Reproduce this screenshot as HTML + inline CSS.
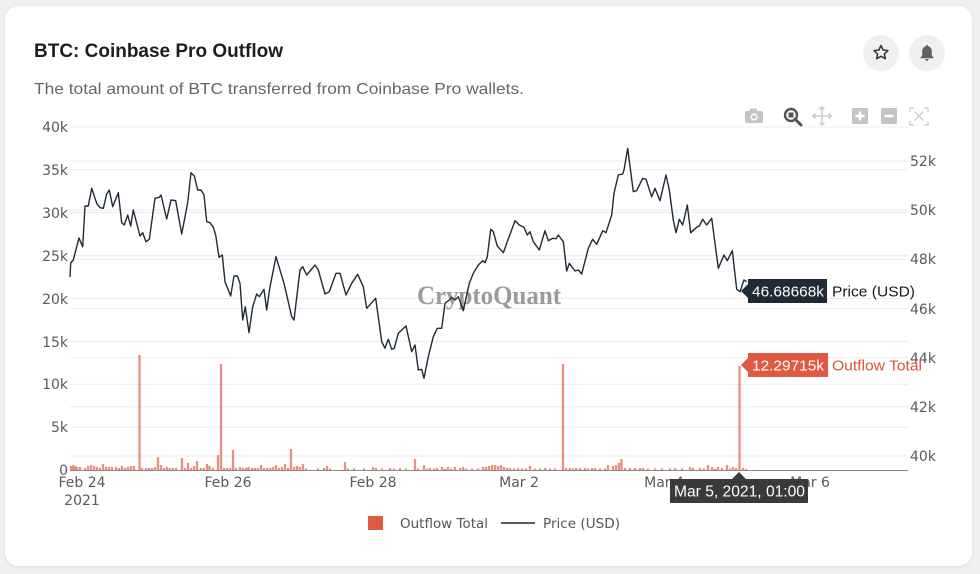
<!DOCTYPE html>
<html><head><meta charset="utf-8"><style>
html,body{margin:0;padding:0;background:#f1f0ef;width:980px;height:574px;overflow:hidden}
svg{display:block}
</style></head><body>
<svg width="980" height="574" viewBox="0 0 980 574" xmlns="http://www.w3.org/2000/svg">
<defs><filter id="sh" x="-5%" y="-5%" width="110%" height="110%"><feDropShadow dx="0" dy="1" stdDeviation="2" flood-color="#000" flood-opacity="0.08"/></filter></defs>
<rect x="0" y="0" width="980" height="574" fill="#f1f0ef"/>
<rect x="5" y="6" width="967" height="560" rx="14" fill="#ffffff" filter="url(#sh)"/>

<text x="34" y="57" font-family="Liberation Sans, Arial, sans-serif" font-weight="bold" font-size="19" fill="#1e1e1e" textLength="249" lengthAdjust="spacingAndGlyphs">BTC: Coinbase Pro Outflow</text>
<text x="34" y="94" font-family="Liberation Sans, Arial, sans-serif" font-size="16" fill="#666" textLength="490" lengthAdjust="spacingAndGlyphs">The total amount of BTC transferred from Coinbase Pro wallets.</text>

<circle cx="881" cy="53" r="18" fill="#f0f0f0"/>
<path d="M881 45.5 L883.1 50 L888 50.6 L884.4 53.9 L885.3 58.7 L881 56.3 L876.7 58.7 L877.6 53.9 L874 50.6 L878.9 50 Z" fill="none" stroke="#333" stroke-width="1.5" stroke-linejoin="round"/>
<circle cx="927" cy="53" r="18" fill="#f0f0f0"/>
<path d="M927 45 c-0.8 0 -1.2 0.6 -1.2 1.2 c-2.4 0.7 -3.6 2.8 -3.6 5.2 v4.2 l-1.6 1.8 v0.8 h12.8 v-0.8 l-1.6 -1.8 v-4.2 c0 -2.4 -1.2 -4.5 -3.6 -5.2 c0 -0.6 -0.4 -1.2 -1.2 -1.2 z M925.3 59 h3.4 c0 1 -0.8 1.7 -1.7 1.7 c-0.9 0 -1.7 -0.7 -1.7 -1.7 z" fill="#5f5f5f"/>

<!-- modebar -->
<g>
<rect x="745" y="111" width="18" height="12" rx="2" fill="#c4c4c4"/>
<rect x="750" y="108.5" width="7" height="3" rx="1" fill="#c4c4c4"/>
<circle cx="754" cy="117" r="3.6" fill="#fff"/><circle cx="754" cy="117" r="2" fill="#c4c4c4"/>
<circle cx="791" cy="115" r="6" fill="none" stroke="#555" stroke-width="2.4"/>
<rect x="788.5" y="112.5" width="5" height="5" fill="#555"/>
<line x1="795" y1="119" x2="801" y2="125" stroke="#555" stroke-width="3" stroke-linecap="round"/>
<path d="M822 107 v18 M813 116 h18 M819.5 109.5 l2.5-2.5 2.5 2.5 M819.5 122.5 l2.5 2.5 2.5-2.5 M815.5 113.5 l-2.5 2.5 2.5 2.5 M828.5 113.5 l2.5 2.5 -2.5 2.5" stroke="#cfcfcf" stroke-width="1.6" fill="none"/>
<rect x="852" y="108" width="16" height="16" rx="1.5" fill="#c4c4c4"/>
<path d="M860 111.5 v9 M855.5 116 h9" stroke="#fff" stroke-width="2.4"/>
<rect x="881" y="108" width="16" height="16" rx="1.5" fill="#c4c4c4"/>
<path d="M884.5 116 h9" stroke="#fff" stroke-width="2.4"/>
<path d="M910 112 v-4 h4 M924 108 h4 v4 M928 121 v4 h-4 M914 125 h-4 v-4 M914.5 111.5 l9 9 M923.5 111.5 l-9 9" stroke="#d0d0d0" stroke-width="1.4" fill="none"/>
</g>

<!-- grid -->
<g stroke="#ececec" stroke-width="1">
<line x1="70" y1="127" x2="908" y2="127"/>
<line x1="70" y1="169.9" x2="908" y2="169.9"/>
<line x1="70" y1="212.75" x2="908" y2="212.75"/>
<line x1="70" y1="255.6" x2="908" y2="255.6"/>
<line x1="70" y1="298.5" x2="908" y2="298.5"/>
<line x1="70" y1="341.4" x2="908" y2="341.4"/>
<line x1="70" y1="384.25" x2="908" y2="384.25"/>
<line x1="70" y1="427.1" x2="908" y2="427.1"/>
<line x1="70" y1="161" x2="908" y2="161"/>
<line x1="70" y1="210.2" x2="908" y2="210.2"/>
<line x1="70" y1="259.3" x2="908" y2="259.3"/>
<line x1="70" y1="308.5" x2="908" y2="308.5"/>
<line x1="70" y1="357.7" x2="908" y2="357.7"/>
<line x1="70" y1="406.8" x2="908" y2="406.8"/>
<line x1="70" y1="456" x2="908" y2="456"/>
</g>

<!-- left axis labels -->
<g font-family="DejaVu Sans, Liberation Sans, sans-serif" font-size="14" fill="#5a5a5a" text-anchor="end">
<text x="68" y="132">40k</text>
<text x="68" y="175">35k</text>
<text x="68" y="218">30k</text>
<text x="68" y="261">25k</text>
<text x="68" y="304">20k</text>
<text x="68" y="347">15k</text>
<text x="68" y="389">10k</text>
<text x="68" y="432">5k</text>
<text x="68" y="475">0</text>
</g>
<!-- right axis labels -->
<g font-family="DejaVu Sans, Liberation Sans, sans-serif" font-size="14" fill="#5a5a5a">
<text x="910" y="166">52k</text>
<text x="910" y="215">50k</text>
<text x="910" y="264">48k</text>
<text x="910" y="314">46k</text>
<text x="910" y="363">44k</text>
<text x="910" y="412">42k</text>
<text x="910" y="461">40k</text>
</g>

<!-- watermark -->
<text x="417" y="304" font-family="Liberation Serif, serif" font-weight="bold" font-size="26" fill="#8a8a8a" fill-opacity="0.85" textLength="144" lengthAdjust="spacingAndGlyphs">CryptoQuant</text>

<!-- bars -->
<path stroke="#e8907e" stroke-width="2.3" fill="none" d="
M71 470V466 M73 470V465 M75 470V466 M77 470V467 M80 470V467 M85 470V468 M88 470V466 M91 470V465 M94 470V466 M97 470V467 M100 470V468 M103 470V464 M106 470V467 M109 470V467 M112 470V467 M116 470V467 M119 470V468 M122 470V466 M125 470V468 M128 470V467 M131 470V466 M134 470V466 M139.5 470V355 M142 470V468 M146 470V468 M149 470V468 M152 470V468 M155 470V467 M158 470V457 M161 470V465 M164 470V468 M167 470V467 M170 470V468 M173 470V468 M176 470V468 M182 470V458 M185 470V468 M188 470V463 M191 470V468 M194 470V466 M197 470V461 M201 470V468 M204 470V468 M207 470V464 M209.5 470V466 M213 470V468 M218 470V455 M221 470V364 M224 470V468 M227 470V468 M230 470V468 M233 470V450 M236 470V468 M240 470V467 M243 470V468 M246 470V468 M248.5 470V467 M252 470V468 M255 470V468 M258 470V468 M261 470V465 M264 470V468 M267 470V468 M270 470V468 M273 470V467 M276 470V465 M279 470V468 M282 470V467 M285 470V464 M288 470V468 M291 470V449 M294 470V467 M297 470V466 M300 470V467 M303 470V464 M306 470V468.5 M318 470V468.5 M324 470V468 M327 470V466 M330 470V468.5 M345 470V462 M348 470V468.5 M354 470V468.5 M364 470V468.5 M373 470V467 M376 470V468 M382 470V468.5 M390 470V468 M394 470V468.5 M400 470V468 M406 470V468.5 M415 470V459 M418 470V468.5 M424 470V465 M427 470V468.5 M430 470V468 M434 470V468.5 M437 470V468 M442 470V467 M445 470V468.5 M448 470V467 M451 470V468.5 M455 470V467 M460 470V468 M463 470V467 M466 470V468.5 M472 470V468.5 M478 470V468.5 M483 470V467 M486 470V467 M489 470V466 M492 470V465 M495 470V465 M498 470V466 M501 470V465 M504 470V467 M507 470V468 M510 470V468 M514 470V468.5 M518 470V468 M522 470V468.5 M526 470V468.5 M530 470V466 M535 470V468.5 M540 470V468.5 M545 470V468 M550 470V468.5 M555 470V468.5 M563 470V364 M566 470V468 M570 470V468 M573 470V468.5 M576 470V468 M580 470V468 M585 470V468 M588 470V468.5 M592 470V468 M595 470V468 M600 470V468.5 M605 470V468.5 M608 470V465 M613 470V466 M616 470V465 M619 470V463 M621.5 470V459 M625 470V468 M630 470V468 M635 470V468 M640 470V468 M643 470V468 M648 470V468.5 M655 470V468.5 M662 470V468.5 M670 470V468.5 M675 470V468 M682 470V468.5 M690 470V467 M693 470V468 M700 470V468 M704 470V468.5 M708 470V465 M712 470V467 M715 470V468.5 M718 470V467 M722 470V468 M727 470V465 M730 470V468.5 M733 470V467 M736 470V468 M739.5 470V366 M743 470V468 M746 470V469"/>

<!-- zero line -->
<line x1="70" y1="470.5" x2="908" y2="470.5" stroke="#8a8a8a" stroke-width="1"/>

<!-- price line -->
<polyline fill="none" stroke="#1f2a36" stroke-width="1.4" stroke-linejoin="round" points="70,277 70.7,263 73.3,260 76.7,246.7 79,238 82.7,246.7 85,206 88.3,206 91.7,188.3 96.7,203.3 100,207.7 103.3,208.3 106.7,194 109.3,190 112.7,206.7 118.3,192.7 121.7,222.7 124.3,225 127.7,215 130.7,226 133.3,210 140,236 142.7,232.7 146,241.7 149.3,239.3 155,198.3 159.3,197.3 161,195 166.7,219 171,200 175.7,200.7 181.7,234 187.7,202.7 191,172.7 194.3,176 197.7,190 201,190 204,195 206.7,221.7 210,222.7 213.3,227.3 215.7,235 219,257.3 222.3,255 225,281.7 230.7,296 234,276 237.3,276 240,283.3 242.7,320 245.3,306.7 249,332.7 252.7,306.7 256.7,294 259.3,296.7 264,289.3 266.7,310 270,286.7 276,256.7 284,283.3 291.7,316.7 294,320 300,270 302.7,266.7 306.7,275 315,265 318.3,270 325,294 329.3,291.7 336,273.3 340,273.3 346,295 351.7,283.3 357.7,274.3 363.3,286.7 366.7,308.3 375.7,298.3 381.7,341.7 385,348.3 388.3,339.3 391.7,349.3 394.3,348.3 398.3,333.3 406,326 411.7,351.7 415,345 418.3,370 421.7,369.3 424,378.3 428.3,356.7 433.3,336.7 437.3,328.3 441.7,328.3 445,303.3 449.3,300 451.7,297.3 455,300 458.3,296.7 463.3,310.7 469.3,283.3 473.3,273.3 478.3,265 482.7,260.7 485,262.7 487.3,256.7 490.7,229.3 493.3,231.7 497.3,246 503.3,252.7 515,220.7 519.3,225 524,227.3 527.3,235 530,231.7 533.3,241.7 539.3,250 545,230.7 548.3,240.7 552.7,238.3 556,238.7 558.3,235 563.3,241.7 566.7,271 569.3,263.3 575,271 578.3,270 581.7,274 588.3,248.3 592.7,239.3 596.7,244.3 602.7,230.7 606,232.7 611.7,215 614,193.3 618.3,175 622.7,174 624,170 627.7,148.3 633.3,191.7 636.7,190.7 642.7,178.3 646,179.3 651.7,196.7 655,188.3 660,200.7 666,175 669.3,190 673.3,220 676,232.7 679.3,219.3 682.7,225 687.3,205 690.7,232.7 696.7,227.3 699.3,226 702.7,219.3 706.7,225 711.7,218.3 718.3,268.3 724,255 727.3,260.7 732.3,250.7 736.7,289.3 740,291.7 744,280 746.7,281.7"/>

<!-- x tick labels -->
<g font-family="DejaVu Sans, Liberation Sans, sans-serif" font-size="14" fill="#5a5a5a" text-anchor="middle">
<text x="82" y="487">Feb 24</text>
<text x="82" y="505">2021</text>
<text x="228" y="487">Feb 26</text>
<text x="373" y="487">Feb 28</text>
<text x="519" y="487">Mar 2</text>
<text x="664" y="487">Mar 4</text>
<text x="810" y="487">Mar 6</text>
</g>

<!-- hover labels -->
<path d="M741 291 L748 284 V279 H827 V303 H748 V298 Z" fill="#1f2a36"/>
<text x="752" y="296.5" font-family="Liberation Sans, Arial, sans-serif" font-size="15" fill="#fff" textLength="72" lengthAdjust="spacingAndGlyphs">46.68668k</text>
<text x="832" y="296.5" font-family="Liberation Sans, Arial, sans-serif" font-size="15" fill="#1a1a1a" textLength="83" lengthAdjust="spacingAndGlyphs">Price (USD)</text>

<path d="M741 365 L748 358 V353 H828 V377 H748 V372 Z" fill="#e05a43"/>
<text x="752" y="370.5" font-family="Liberation Sans, Arial, sans-serif" font-size="15" fill="#fff" textLength="72" lengthAdjust="spacingAndGlyphs">12.29715k</text>
<text x="832" y="370.5" font-family="Liberation Sans, Arial, sans-serif" font-size="15" fill="#d9533c" textLength="90" lengthAdjust="spacingAndGlyphs">Outflow Total</text>

<path d="M739 472 L746 479 H808 V503 H670 V479 H732 Z" fill="#3a3a3a"/>
<text x="674" y="496.5" font-family="Liberation Sans, Arial, sans-serif" font-size="15.5" fill="#fff" textLength="131" lengthAdjust="spacingAndGlyphs">Mar 5, 2021, 01:00</text>

<!-- legend -->
<rect x="368" y="516" width="15" height="14" fill="#e05a43"/>
<text x="400" y="528" font-family="DejaVu Sans, Liberation Sans, sans-serif" font-size="13.5" fill="#555" textLength="88" lengthAdjust="spacingAndGlyphs">Outflow Total</text>
<line x1="501" y1="523" x2="535" y2="523" stroke="#1f2a36" stroke-width="1.4"/>
<text x="543" y="528" font-family="DejaVu Sans, Liberation Sans, sans-serif" font-size="13.5" fill="#555" textLength="77" lengthAdjust="spacingAndGlyphs">Price (USD)</text>
</svg>
</body></html>
